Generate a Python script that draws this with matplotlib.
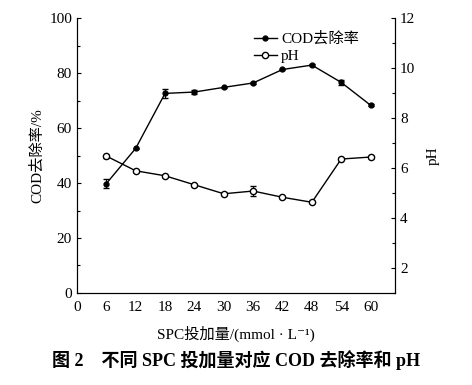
import matplotlib
matplotlib.use("Agg")
import matplotlib.pyplot as plt
from matplotlib.lines import Line2D
from matplotlib.ticker import MultipleLocator

plt.rcParams["font.family"] = ["Liberation Serif", "Noto Sans CJK SC", "DejaVu Serif"]
plt.rcParams["axes.unicode_minus"] = False

# 데이터
dose = [6, 12, 18, 24, 30, 36, 42, 48, 54, 60]
cod = [39.8, 52.6, 72.6, 73.1, 74.8, 76.4, 81.3, 82.9, 76.6, 68.3]
cod_err = [1.5, 0.3, 1.5, 0.8, 0.3, 0.3, 0.3, 0.3, 1.0, 0.3]
ph = [6.48, 5.89, 5.69, 5.33, 4.97, 5.08, 4.83, 4.63, 6.36, 6.44]
ph_err = [0.06, 0.03, 0.03, 0.03, 0.03, 0.2, 0.03, 0.03, 0.03, 0.03]
xticks = [0, 6, 12, 18, 24, 30, 36, 42, 48, 54, 60]

fig = plt.figure(figsize=(4.72, 3.85), dpi=100)
ax = fig.add_axes([0.163, 0.239, 0.674, 0.714])
ax2 = ax.twinx()

ax.errorbar(dose, cod, yerr=cod_err, color="black", marker="o", ms=3.5,
            lw=1, capsize=2, elinewidth=0.8)
ax2.errorbar(dose, ph, yerr=ph_err, color="black", marker="o", ms=4.5,
             mfc="white", lw=1, capsize=2, elinewidth=0.8)

ax.set_xlim(0, 65)
ax.set_ylim(0, 100)
ax2.set_ylim(1, 12)
ax.set_xticks(xticks)
ax.yaxis.set_major_locator(MultipleLocator(20))
ax.yaxis.set_minor_locator(MultipleLocator(10))
ax2.yaxis.set_major_locator(MultipleLocator(2))
ax2.yaxis.set_minor_locator(MultipleLocator(1))

for a in (ax, ax2):
    a.spines["top"].set_visible(False)
    a.tick_params(direction="in", labelsize=11, length=3, width=0.8)
    a.tick_params(which="minor", direction="in", length=2, width=0.8)
ax.tick_params(axis="x", length=0, pad=6)

ax.set_xlabel("SPC投加量/(mmol · L⁻¹)", fontsize=11, labelpad=8)
ax.set_ylabel("COD去除率/%", fontsize=11)
ax2.set_ylabel("pH", fontsize=11, labelpad=8)

handles = [Line2D([], [], color="black", marker="o", ms=3.5, lw=1),
           Line2D([], [], color="black", marker="o", ms=4.5, mfc="white", lw=1)]
ax.legend(handles, ["COD去除率", "pH"], loc="upper right",
          bbox_to_anchor=(0.93, 1.0), frameon=False, fontsize=11,
          handlelength=1.5, handletextpad=0.3, labelspacing=0.2)

fig.text(0.5, 0.05, "图 2    不同 SPC 投加量对应 COD 去除率和 pH",
         ha="center", fontsize=13, fontweight="bold")

fig.savefig("out.png", dpi=100)
